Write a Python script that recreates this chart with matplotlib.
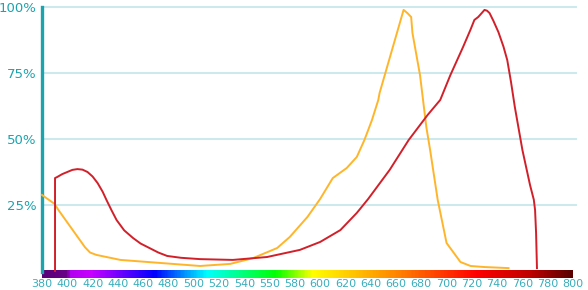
import numpy as np
import matplotlib
matplotlib.use("Agg")
import matplotlib.pyplot as plt
from matplotlib.colors import LinearSegmentedColormap

# yellow/orange absorption curve (wavelength nm, percent)
yellow_wl = [380, 390, 393, 414, 418, 423, 442, 505, 529, 547, 566, 576, 590, 600, 610,
             621, 629, 635, 641, 646, 647, 666, 669, 672, 673, 679, 684, 687, 693,
             700, 711, 719, 730, 749]
yellow_pct = [28.8, 25.4, 23.1, 9.0, 7.0, 6.1, 4.2, 1.9, 2.7, 4.9, 8.7, 12.9, 20.5, 27.3, 35.2,
              39.0, 43.2, 49.6, 57.2, 64.8, 67.4, 98.9, 97.7, 96.2, 90.2, 74.2, 54.5, 45.8, 26.9,
              10.6, 3.4, 1.9, 1.5, 1.1]

# red curve
red_wl = [390.3, 390.3, 392, 396, 400, 404, 408, 412, 416, 420, 424, 428, 431, 435, 439,
          445, 452, 458, 465, 472, 479, 490, 505, 531, 558, 584, 600, 616, 629, 638,
          655, 670, 685, 695, 703, 713, 719, 722, 725, 728, 730, 732, 734, 737, 741,
          745, 748, 751, 754, 760, 766, 769, 770, 770.8, 771.5]
red_pct = [0, 35.2, 35.6, 36.7, 37.5, 38.3, 38.6, 38.4, 37.5, 35.8, 33.3, 30.0, 26.9, 23.0, 19.3,
           15.4, 12.5, 10.4, 8.7, 7.0, 5.7, 5.0, 4.5, 4.2, 5.3, 8.0, 11.0, 15.5, 22.0, 27.3,
           38.3, 49.6, 59.1, 64.8, 74.2, 84.8, 91.5, 95.1, 96.2, 97.8, 98.9, 98.6, 97.7, 94.8, 90.5,
           85.0, 79.9, 71.5, 62.1, 45.8, 32.6, 27.0, 23.1, 14.4, 1.1]

x_ticks = list(range(380, 801, 20))
x_labels = ["380", "400", "420", "440", "460", "480", "500", "520", "540", "550", "580",
            "600", "620", "640", "660", "680", "700", "720", "740", "760", "780", "800"]
y_ticks = [25, 50, 75, 100]
y_labels = ["25%", "50%", "75%", "100%"]

teal = "#1ba3ae"
label_teal = "#3aaebb"
grid_col = "#cbe9ee"

fig = plt.figure(figsize=(5.88, 2.9), dpi=100)
ax = fig.add_axes([42 / 588, 19 / 290, 531 / 588, 264 / 290])
ax.set_xlim(380, 800)
ax.set_ylim(0, 100)

for yv in y_ticks:
    ax.axhline(yv, xmin=0, xmax=1.006, color=grid_col, lw=1.4, zorder=1, clip_on=False)

# visible spectrum bar under the axis
spec = LinearSegmentedColormap.from_list("spec", [
    (0.0, "#5a0078"), (0.045, "#6a0088"), (0.05, "#b000f0"), (0.09, "#c800ff"),
    (0.21, "#0000ff"), (0.31, "#00ffff"), (0.44, "#00ff00"), (0.51, "#ffff00"),
    (0.66, "#ff8c00"), (0.82, "#ff0000"), (0.92, "#c00000"), (1.0, "#5a0000")])
grad = np.linspace(0, 1, 420).reshape(1, -1)
ax.imshow(grad, cmap=spec, aspect="auto", extent=[380, 800, -2.5, 0.4],
          clip_on=False, zorder=2)

ax.plot(yellow_wl, yellow_pct, color="#ffb52a", lw=1.4, zorder=3, clip_on=False,
        solid_joinstyle="round")
ax.plot(red_wl, red_pct, color="#d2202a", lw=1.4, zorder=4, clip_on=False,
        solid_joinstyle="round")

for s in ["top", "right", "bottom"]:
    ax.spines[s].set_visible(False)
ax.spines["left"].set_color(teal)
ax.spines["left"].set_linewidth(2.4)
ax.spines["left"].set_bounds(-0.5, 100)

ax.set_yticks(y_ticks)
ax.set_yticklabels(y_labels, fontsize=9.5, color=teal)
ax.set_xticks(x_ticks)
ax.set_xticklabels(x_labels, fontsize=8, color=label_teal)
ax.tick_params(axis="y", length=0, pad=4)
ax.tick_params(axis="x", length=0, pad=6)

fig.savefig("out.png", dpi=100)
